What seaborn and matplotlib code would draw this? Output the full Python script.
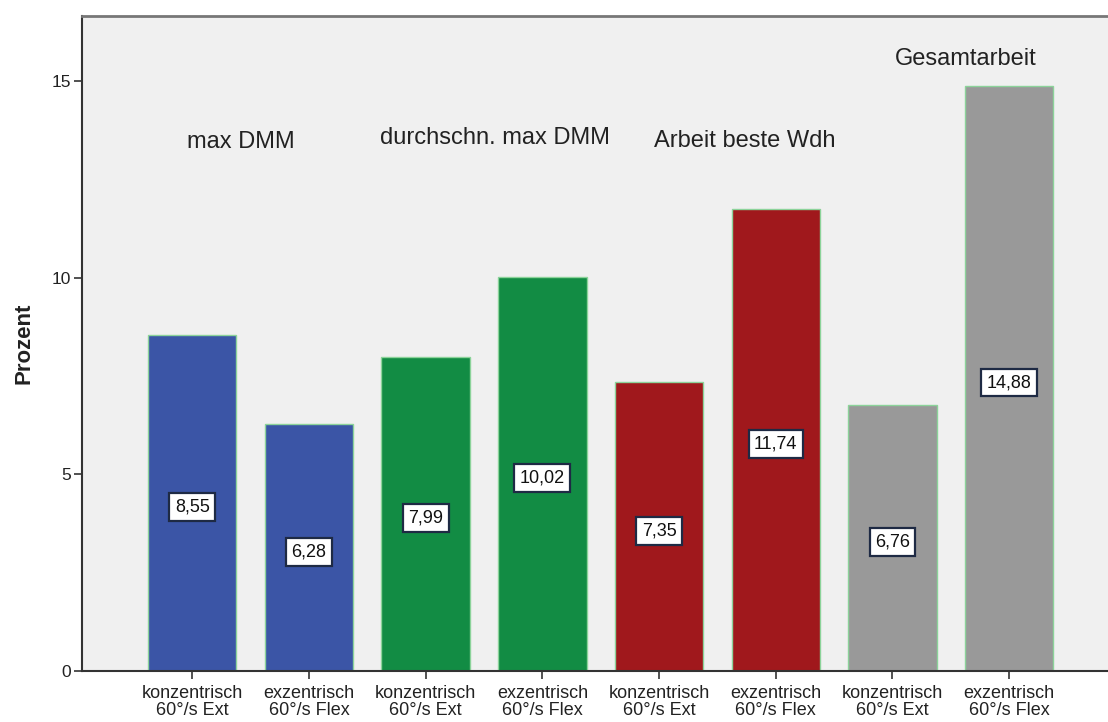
import matplotlib
matplotlib.use("Agg")
import matplotlib.pyplot as plt
import seaborn as sns
import pandas as pd

# Data
keys = ["max_ext", "max_flex", "avg_ext", "avg_flex",
        "work_ext", "work_flex", "total_ext", "total_flex"]
tick_labels = ["konzentrisch\n60°/s Ext", "exzentrisch\n60°/s Flex"] * 4
values = [8.55, 6.28, 7.99, 10.02, 7.35, 11.74, 6.76, 14.88]
group_names = ["max DMM", "durchschn. max DMM", "Arbeit beste Wdh", "Gesamtarbeit"]
bar_colors = ["#3B55A6", "#3B55A6", "#128C44", "#128C44",
              "#A0181C", "#A0181C", "#999999", "#999999"]

df = pd.DataFrame({"key": keys, "value": values})

sns.set_theme(style="white")
plt.rcParams["font.family"] = ["Liberation Sans", "DejaVu Sans"]

fig = plt.figure(figsize=(11.08, 7.22), dpi=100)
ax = fig.add_axes([0.074, 0.0706, 0.926, 0.907])
ax.set_facecolor("#F0F0F0")

sns.barplot(data=df, x="key", y="value", hue="key", order=keys,
            palette=dict(zip(keys, bar_colors)), saturation=1, dodge=False,
            legend=False, width=0.757, edgecolor="#8CD39A", linewidth=1.0, ax=ax)

ax.set_xlim(-0.945, 7.847)
ax.set_ylim(0, 16.65)
ax.set_yticks([0, 5, 10, 15])
ax.set_yticklabels(["0", "5", "10", "15"], fontsize=12.5, color="#222222")
ax.set_xticks(range(len(keys)))
ax.set_xticklabels(tick_labels, fontsize=13, color="#222222", linespacing=1.0)
ax.set_xlabel("")
ax.set_ylabel("Prozent", fontsize=16, fontweight="bold", color="#222222", labelpad=12)

ax.tick_params(axis="both", which="major", length=6, width=1.2, color="#333333",
               direction="out", pad=2, bottom=True, left=True)
ax.tick_params(axis="x", pad=4)

for side in ["left", "bottom"]:
    ax.spines[side].set_color("#333333")
    ax.spines[side].set_linewidth(1.5)
ax.spines["top"].set_color("#777777")
ax.spines["top"].set_linewidth(2.0)
ax.spines["right"].set_visible(False)

# Value labels inside the bars
for i, v in enumerate(values):
    ax.annotate(f"{v:.2f}".replace(".", ","), xy=(i, v / 2), xytext=(0, -3),
                textcoords="offset points", ha="center", va="center",
                fontsize=13, color="#111111",
                bbox=dict(boxstyle="square,pad=0.3", fc="white",
                          ec="#1E2A44", lw=1.6))

# Group captions
group_pos = [(0.42, 13.46), (2.59, 13.55), (4.73, 13.48), (6.63, 15.55)]
for name, (gx, gy) in zip(group_names, group_pos):
    ax.text(gx, gy, name, ha="center", va="center", fontsize=17, color="#222222")

fig.savefig("out.png", dpi=100)
